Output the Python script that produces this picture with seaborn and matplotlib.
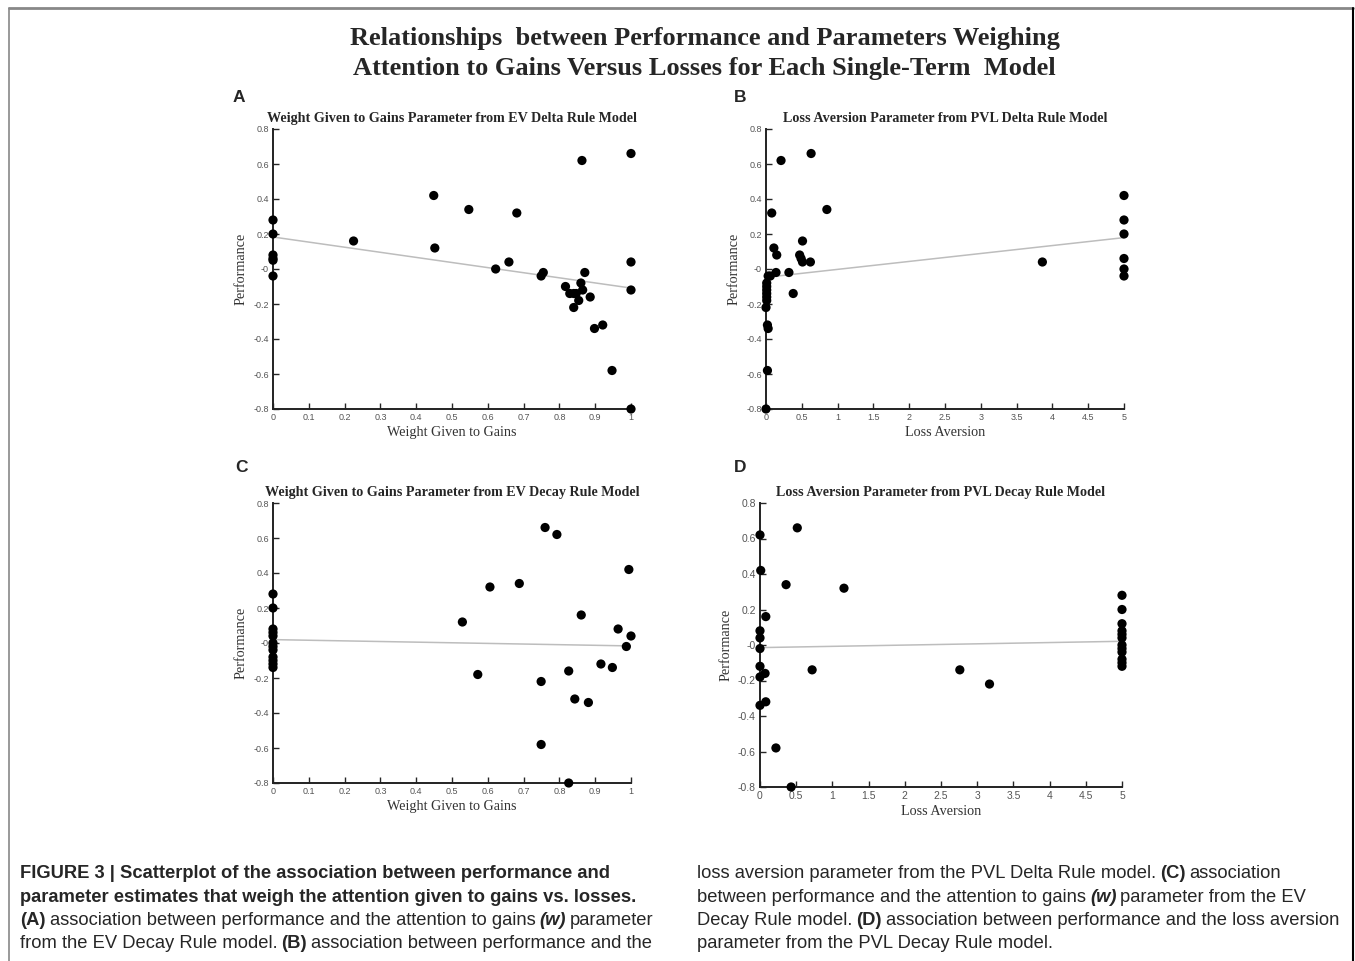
import numpy as np
import pandas as pd
import matplotlib
matplotlib.use('Agg')
import matplotlib.pyplot as plt
import seaborn as sns
from matplotlib.lines import Line2D
from matplotlib.ticker import FuncFormatter

# --- data ---
# A: EV Delta Rule, weight given to gains
w_A = [0, 0, 0, 0, 0, 0, 0.225, 0.449, 0.452, 0.547, 0.681, 0.622, 0.659, 0.749, 0.755,
       0.817, 0.829, 0.840, 0.847, 0.840, 0.854, 0.860, 0.863, 0.865, 0.871, 0.886,
       0.898, 0.921, 0.947, 1.0, 1.0, 1.0, 1.0]
perf_A = [0.28, 0.20, 0.08, 0.06, 0.05, -0.04, 0.16, 0.42, 0.12, 0.34, 0.32, 0.0, 0.04, -0.04, -0.02,
          -0.10, -0.14, -0.14, -0.14, -0.22, -0.18, -0.08, 0.62, -0.12, -0.02, -0.16,
          -0.34, -0.32, -0.58, 0.66, 0.04, -0.12, -0.80]

# B: PVL Delta Rule, loss aversion
la_B = [0.21, 0.63, 0.08, 0.85, 0.11, 0.15, 0.14, 0.32, 0.38, 0.51, 0.47, 0.49, 0.51, 0.62, 0.06, 0.03,
        0.01, 0.01, 0.01, 0.01, 0.01, 0.01, 0.0, 0.02, 0.03, 0.02, 0.0,
        3.86, 5, 5, 5, 5, 5, 5]
perf_B = [0.62, 0.66, 0.32, 0.34, 0.12, 0.08, -0.02, -0.02, -0.14, 0.16, 0.08, 0.06, 0.04, 0.04, -0.04, -0.04,
          -0.08, -0.10, -0.12, -0.14, -0.16, -0.18, -0.22, -0.32, -0.34, -0.58, -0.80,
          0.04, 0.42, 0.28, 0.20, 0.06, 0.0, -0.04]

# C: EV Decay Rule, weight given to gains
w_C = [0, 0, 0, 0, 0, 0, 0, 0, 0, 0, 0, 0,
       0.529, 0.572, 0.606, 0.688, 0.760, 0.793, 0.749, 0.749, 0.826, 0.843, 0.881,
       0.826, 0.861, 0.916, 0.948, 0.964, 0.987, 0.994, 1.0]
perf_C = [0.28, 0.20, 0.08, 0.06, 0.04, 0.0, -0.02, -0.04, -0.08, -0.10, -0.12, -0.14,
          0.12, -0.18, 0.32, 0.34, 0.66, 0.62, -0.22, -0.58, -0.16, -0.32, -0.34,
          -0.80, 0.16, -0.12, -0.14, 0.08, -0.02, 0.42, 0.04]

# D: PVL Decay Rule, loss aversion
la_D = [0, 0.01, 0.515, 0.36, 1.16, 0.08, 0, 0, 0, 0, 0, 0.07, 0, 0.08, 0.22, 0.43, 0.72, 2.76, 3.17,
        5, 5, 5, 5, 5, 5, 5, 5, 5, 5, 5, 5]
perf_D = [0.62, 0.42, 0.66, 0.34, 0.32, 0.16, 0.08, 0.04, -0.02, -0.12, -0.18, -0.16, -0.34, -0.32,
          -0.58, -0.80, -0.14, -0.14, -0.22,
          0.28, 0.20, 0.12, 0.08, 0.06, 0.04, 0.0, -0.02, -0.04, -0.08, -0.10, -0.12]

panels = [
    ('A', (233, 102), w_A, perf_A, 'Weight Given to Gains Parameter from EV Delta Rule Model', 'Weight Given to Gains',
     [273 / 1355, 1 - 409 / 961, 358 / 1355, 280 / 961], 1, np.arange(0, 1.01, 0.1), 6.5),
    ('B', (734, 102), la_B, perf_B, 'Loss Aversion Parameter from PVL Delta Rule Model', 'Loss Aversion',
     [766 / 1355, 1 - 409 / 961, 358 / 1355, 280 / 961], 5, np.arange(0, 5.01, 0.5), 6.5),
    ('C', (235, 472), w_C, perf_C, 'Weight Given to Gains Parameter from EV Decay Rule Model', 'Weight Given to Gains',
     [273 / 1355, 1 - 783 / 961, 358 / 1355, 280 / 961], 1, np.arange(0, 1.01, 0.1), 6.5),
    ('D', (734, 472), la_D, perf_D, 'Loss Aversion Parameter from PVL Decay Rule Model', 'Loss Aversion',
     [760 / 1355, 1 - 787 / 961, 362 / 1355, 284 / 961], 5, np.arange(0, 5.01, 0.5), 7.5),
]

sns.set_style('ticks')
plt.rcParams['font.family'] = ['Liberation Sans', 'DejaVu Sans']

fig = plt.figure(figsize=(13.55, 9.61), dpi=100)
serif = 'Liberation Serif'
fmt = FuncFormatter(lambda v, p: ('%g' % round(v, 2)))

for letter, lpos, xs, ys, title, xlabel, pos, xmax, xticks, tsize in panels:
    ax = fig.add_axes(pos)
    df = pd.DataFrame({'x': xs, 'y': ys})
    sns.regplot(data=df, x='x', y='y', ax=ax, scatter=False, ci=None,
                line_kws={'color': '#bdbdbd', 'lw': 1.1})
    sns.scatterplot(data=df, x='x', y='y', ax=ax, color='black', s=44, marker='o',
                    edgecolor='none', clip_on=False, zorder=5)
    ax.set_xlim(0, xmax)
    ax.set_ylim(-0.8, 0.8)
    ax.set_xticks(xticks)
    ax.set_yticks(np.arange(-0.8, 0.81, 0.2))
    ax.xaxis.set_major_formatter(fmt)
    ax.yaxis.set_major_formatter(fmt)
    ax.tick_params(direction='in', length=4, width=1, labelsize=tsize, labelcolor='#555555', pad=3)
    for s in ['left', 'bottom']:
        ax.spines[s].set_linewidth(1.4)
        ax.spines[s].set_color('#222222')
    sns.despine(ax=ax)
    ax.set_title(title, fontfamily=serif, fontweight='bold', fontsize=10.2, pad=5)
    ax.set_xlabel(xlabel, fontfamily=serif, fontsize=10.2, color='#333333', labelpad=3)
    ax.set_ylabel('Performance', fontfamily=serif, fontsize=10.2, color='#333333', labelpad=4)
    fig.text(lpos[0] / 1355, 1 - lpos[1] / 961, letter, fontsize=12.5, fontweight='bold',
             ha='left', va='baseline')

fig.text(0.52, 1 - 39 / 961, 'Relationships  between Performance and Parameters Weighing',
         fontfamily=serif, fontweight='bold', fontsize=19, ha='center', va='center')
fig.text(0.52, 1 - 69 / 961, 'Attention to Gains Versus Losses for Each Single-Term  Model',
         fontfamily=serif, fontweight='bold', fontsize=19, ha='center', va='center')

# caption
cap = fig.add_axes([0, 0, 1, 1])
cap.set_axis_off()
cap.set_xlim(0, 1)
cap.set_ylim(0, 1)
cap.patch.set_alpha(0)

N, B, BI = ('normal', 'normal'), ('bold', 'normal'), ('bold', 'italic')
cap_fs = 13.2


def caption_line(x, y, parts):
    prev = None
    for txt, (wt, st) in parts:
        if prev is None:
            prev = cap.text(x / 1355, 1 - y / 961, txt, fontsize=cap_fs, fontweight=wt, fontstyle=st,
                            ha='left', va='bottom', transform=fig.transFigure)
        else:
            prev = cap.annotate(txt, xy=(1, 0), xycoords=prev, xytext=(4, 0), textcoords='offset pixels',
                                fontsize=cap_fs, fontweight=wt, fontstyle=st, ha='left', va='bottom')


left = [
    [('FIGURE 3 | Scatterplot of the association between performance and', B)],
    [('parameter estimates that weigh the attention given to gains vs. losses.', B)],
    [('(A)', B), ('association between performance and the attention to gains', N), ('(w)', BI), ('parameter', N)],
    [('from the EV Decay Rule model.', N), ('(B)', B), ('association between performance and the', N)],
]
right = [
    [('loss aversion parameter from the PVL Delta Rule model.', N), ('(C)', B), ('association', N)],
    [('between performance and the attention to gains', N), ('(w)', BI), ('parameter from the EV', N)],
    [('Decay Rule model.', N), ('(D)', B), ('association between performance and the loss aversion', N)],
    [('parameter from the PVL Decay Rule model.', N)],
]
for i, (lp, rp) in enumerate(zip(left, right)):
    yb = 882 + i * 23.5
    caption_line(20, yb, lp)
    caption_line(697, yb, rp)

# figure frame
fig.add_artist(Line2D([9 / 1355, 1353 / 1355], [1 - 8 / 961, 1 - 8 / 961], color='#888888', lw=2,
                      transform=fig.transFigure))
fig.add_artist(Line2D([9 / 1355, 9 / 1355], [0, 1 - 8 / 961], color='#888888', lw=1.2,
                      transform=fig.transFigure))
fig.add_artist(Line2D([1353 / 1355, 1353 / 1355], [0, 1 - 8 / 961], color='black', lw=1.5,
                      transform=fig.transFigure))

fig.savefig('out.png', dpi=100)
